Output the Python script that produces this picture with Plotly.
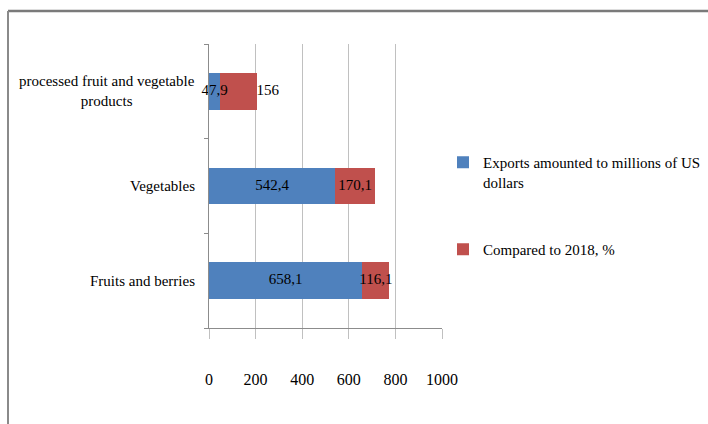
import plotly.graph_objects as go

categories = ["Fruits and berries", "Vegetables", "processed fruit and vegetable products"]
category_labels = ["Fruits and berries", "Vegetables", "processed fruit and vegetable<br>products"]
exports = [658.1, 542.4, 47.9]
compared = [116.1, 170.1, 156]
compared_label_pos = ["middle center", "middle center", "middle right"]
series_names = ["Exports amounted to millions of US<br>dollars", "Compared to 2018, %"]
x_ticks = [0, 200, 400, 600, 800, 1000]

def fmt(v):
    s = ("%g" % v)
    return s.replace(".", ",")

FONT = "Liberation Serif"
W, H = 708, 424
L, R, T, B = 209, 442, 44, 328  # plot area in px

def px_x(p):
    return (p - L) / (R - L)

def px_y(p):
    return (B - p) / (B - T)

fig = go.Figure()
fig.add_trace(go.Bar(
    y=categories, x=exports, orientation="h", name=series_names[0],
    marker=dict(color="#4F81BD", line=dict(width=0)),
    legend="legend",
))
fig.add_trace(go.Bar(
    y=categories, x=compared, orientation="h", name=series_names[1],
    marker=dict(color="#C0504D", line=dict(width=0)),
    legend="legend2",
))

# data labels, drawn on top of the bars
lab_font = dict(family=FONT, size=15, color="black")
fig.add_trace(go.Scatter(
    y=categories, x=[e / 2 for e in exports], mode="text",
    text=[fmt(v) for v in exports], textposition="middle center",
    textfont=lab_font, showlegend=False, cliponaxis=False, hoverinfo="skip",
))
fig.add_trace(go.Scatter(
    y=categories,
    x=[e + c / 2 if p == "middle center" else e + c
       for e, c, p in zip(exports, compared, compared_label_pos)],
    mode="text", text=[fmt(v) for v in compared], textposition=compared_label_pos,
    textfont=lab_font, showlegend=False, cliponaxis=False, hoverinfo="skip",
))

for cat, lab in zip(categories, category_labels):
    fig.add_annotation(
        x=0, xref="paper", y=cat, yref="y", text=lab, showarrow=False,
        xanchor="right", xshift=-12, align="center",
        font=dict(family=FONT, size=15, color="black"),
    )

# frame lines of the original picture
fig.add_shape(type="line", xref="paper", yref="paper",
              x0=px_x(8), x1=px_x(W + 5), y0=px_y(11), y1=px_y(11),
              line=dict(color="#7a7a7a", width=2.5))
fig.add_shape(type="line", xref="paper", yref="paper",
              x0=px_x(8), x1=px_x(8), y0=px_y(11), y1=px_y(H + 5),
              line=dict(color="#8a8a8a", width=2))

fig.update_layout(
    width=W, height=H,
    margin=dict(l=L, r=W - R, t=T, b=H - B, pad=0, autoexpand=False),
    paper_bgcolor="white", plot_bgcolor="white",
    barmode="stack", bargap=0.61,
    font=dict(family=FONT, size=15, color="black"),
    xaxis=dict(
        range=[0, 1000], tickvals=x_ticks, ticktext=[str(v) for v in x_ticks],
        showgrid=True, gridcolor="#c0c0c0", gridwidth=1,
        showline=True, linecolor="#8c8c8c", linewidth=1,
        ticks="outside", ticklen=10, tickcolor="#c0c0c0",
        ticklabelstandoff=27, zeroline=False,
        tickfont=dict(family=FONT, size=16, color="black"),
        fixedrange=True,
    ),
    yaxis=dict(
        type="category", categoryorder="array", categoryarray=categories,
        showticklabels=False, showline=True, linecolor="#8c8c8c", linewidth=1,
        ticks="outside", tickson="boundaries", ticklen=4, tickcolor="#8c8c8c",
        showgrid=False, fixedrange=True,
    ),
    legend=dict(
        xref="container", yref="container",
        x=443 / W, y=1 - 146 / H, xanchor="left", yanchor="top",
        bgcolor="rgba(0,0,0,0)", font=dict(family=FONT, size=15, color="black"),
        valign="top",
    ),
    legend2=dict(
        xref="container", yref="container",
        x=443 / W, y=1 - 233 / H, xanchor="left", yanchor="top",
        bgcolor="rgba(0,0,0,0)", font=dict(family=FONT, size=15, color="black"),
        valign="top",
    ),
    showlegend=True,
)

fig.write_html("out.html")
